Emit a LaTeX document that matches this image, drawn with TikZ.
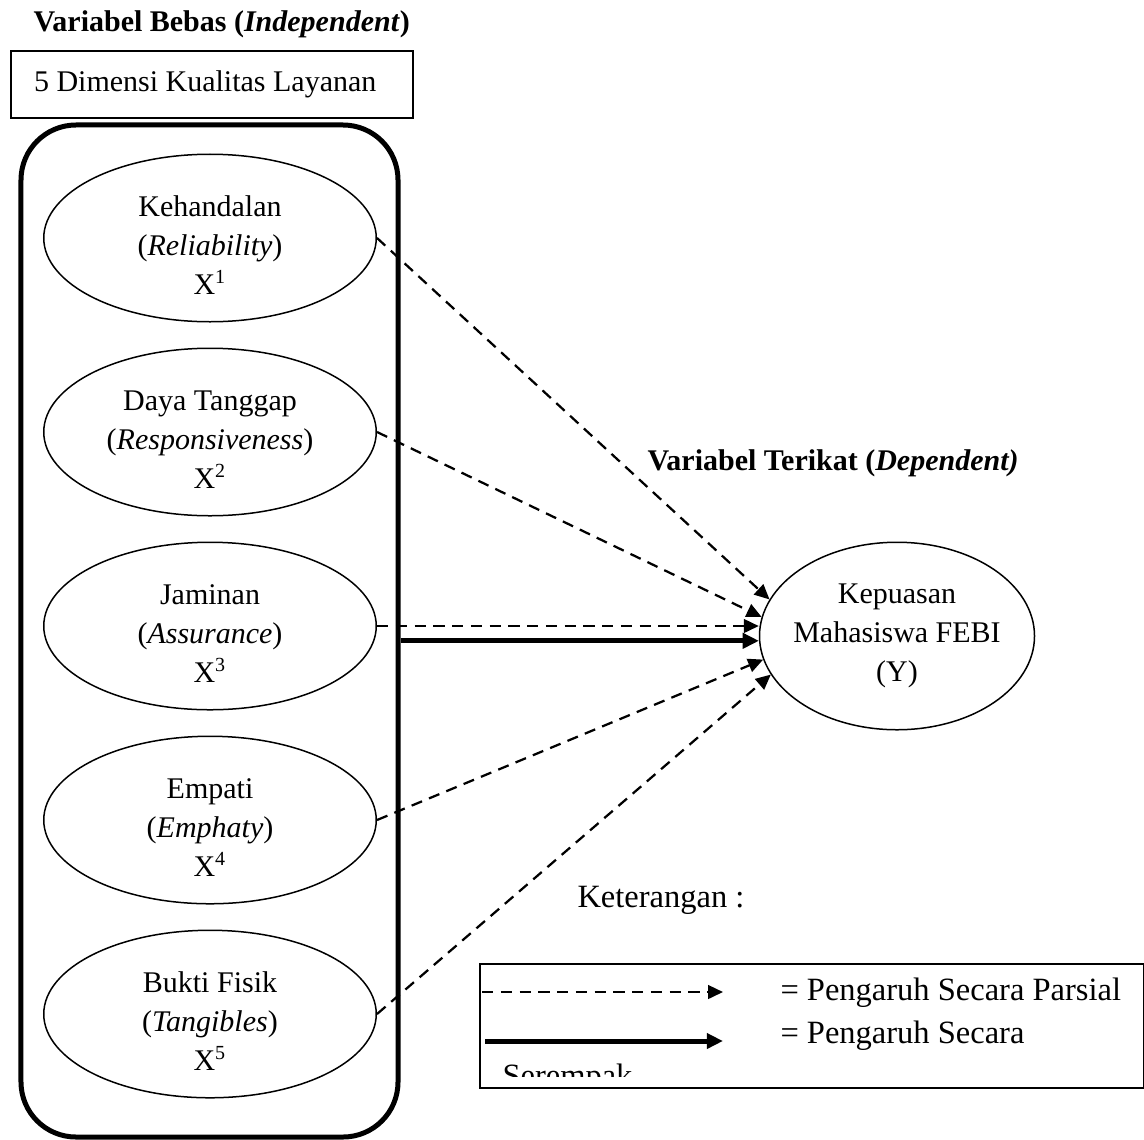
\documentclass[tikz,border=0pt]{standalone}
\usepackage{fontspec}
\setmainfont{Liberation Serif}
\usetikzlibrary{shapes.geometric, arrows.meta, positioning}

\begin{document}
\begin{tikzpicture}[x=0.4pt, y=-0.4pt,
    font=\fontsize{12pt}{15.5pt}\selectfont,
    teks/.style={anchor=west, inner sep=0pt},
    dimensi/.style={ellipse, draw, line width=0.6pt, minimum width=133pt,
                    minimum height=67pt, inner sep=-4pt, align=center},
    parsial/.style={-{Triangle[length=6pt, width=5.5pt]}, line width=0.9pt,
                    dash pattern=on 4.5pt off 3pt},
    serempak/.style={-{Triangle[length=6.5pt, width=6pt]}, line width=2pt}]
  \useasboundingbox (0,0) rectangle (1144,1139);

  % variabel bebas
  \node[teks, font=\fontsize{12pt}{15pt}\selectfont\bfseries] (bebas) at (33,24)
    {Variabel Bebas (\textit{Independent})};
  \node[draw, line width=0.8pt, anchor=north west, minimum width=160.8pt,
        minimum height=26.8pt] (judul) at (10,50)
    {\makebox[142.4pt][l]{5 Dimensi Kualitas Layanan}};
  \node[draw, rounded corners=22pt, line width=2pt, minimum width=150.8pt,
        minimum height=404.8pt] (grup) at (209.5,631) {};

  \node[dimensi] (e1) at (210,238) {\rule{0pt}{14pt}Kehandalan\\(\textit{Reliability})\\X\textsuperscript{1}};
  \node[dimensi, below=10pt of e1] (e2) {\rule{0pt}{14pt}Daya Tanggap\\(\textit{Responsiveness})\\X\textsuperscript{2}};
  \node[dimensi, below=10pt of e2] (e3) {\rule{0pt}{14pt}Jaminan\\(\textit{Assurance})\\X\textsuperscript{3}};
  \node[dimensi, below=10pt of e3] (e4) {\rule{0pt}{14pt}Empati\\(\textit{Emphaty})\\X\textsuperscript{4}};
  \node[dimensi, below=10pt of e4] (e5) {\rule{0pt}{14pt}Bukti Fisik\\(\textit{Tangibles})\\X\textsuperscript{5}};

  % variabel terikat
  \node[teks, font=\fontsize{12pt}{15pt}\selectfont\bfseries] (terikat) at (647,463)
    {Variabel Terikat (\textit{Dependent)}};
  \node[ellipse, draw, line width=0.6pt, minimum width=110pt, minimum height=75pt] (y) at (897,636) {};
  \node[align=center] (ylabel) at (y) {Kepuasan\\Mahasiswa FEBI\\(Y)};

  \path[parsial]
    (e1.east) edge (y.164)
    (e2.east) edge (y.172)
    (e3.east) edge (e3.east -| y.west)
    (e4.east) edge (y.190)
    (e5.east) edge (y.197);
  \draw[serempak] (grup.east |- y.182) -- (y.182);

  % keterangan
  \node[teks, font=\fontsize{13pt}{15pt}\selectfont] (keterangan) at (577,900) {Keterangan :};
  \node[draw, line width=0.6pt, anchor=north west, minimum width=265.6pt,
        minimum height=49.6pt] (legenda) at (479,963) {};
  \coordinate (p1) at (482,992);
  \coordinate (p2) at (723,992);
  \coordinate (s1) at (485,1041);
  \coordinate (s2) at (723,1041);
  \draw[parsial] (p1) -- (p2);
  \draw[serempak] (s1) -- (s2);
  \node[teks, font=\fontsize{13pt}{15pt}\selectfont] (ketparsial) at (780,993) {= Pengaruh Secara Parsial};
  \node[teks, font=\fontsize{13pt}{15pt}\selectfont] (ketserempak) at (780,1036) {= Pengaruh Secara};
  \begin{scope}
    \clip (479,963) rectangle (1143,1076);
    \node[anchor=base west, inner sep=0pt, font=\fontsize{13pt}{15pt}\selectfont] (lanjut) at (502,1086) {Serempak};
  \end{scope}
\end{tikzpicture}
\end{document}
